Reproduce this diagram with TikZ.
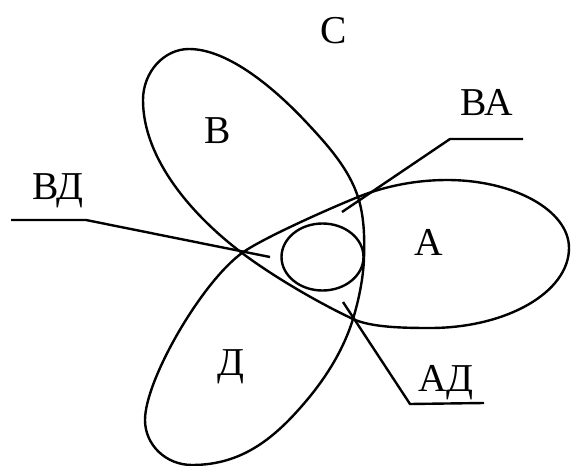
\documentclass[tikz,border=0pt]{standalone}
\usepackage{fontspec}
\setmainfont{Liberation Serif}
\begin{document}
\begin{tikzpicture}[x=1pt,y=-1pt,line width=2.4pt,
  lbl/.style={font=\fontsize{39.5}{40}\selectfont,inner sep=0pt,anchor=base},
  leader/.style={line width=2.4pt}]
\useasboundingbox (0,0) rectangle (571,466);
% crossing points and lobe points
\coordinate (X1) at (242,253);
\coordinate (X2) at (358,197);
\coordinate (X3) at (353,319);
\coordinate (Atop) at (447,180);
\coordinate (Aright) at (569,248);
\coordinate (Abot) at (430,328);
\coordinate (Bl) at (143,100);
\coordinate (Btop) at (189,49);
\coordinate (Bmid) at (307,123);
\coordinate (Br) at (364,258);
\coordinate (Dr) at (307,400);
\coordinate (Dbot) at (192,465);
\coordinate (Dl) at (145,420);
% three-lobed outline
\draw (X1) .. controls +(36:25pt) and +(202:30pt) .. (X2)
  .. controls +(22:30pt) and +(180:30pt) .. (Atop)
  .. controls +(0:67pt) and +(90:37.5pt) .. (Aright)
  .. controls +(-90:44pt) and +(0:77pt) .. (Abot)
  .. controls +(180:26pt) and +(-25:20pt) .. (X3)
  .. controls +(155:38pt) and +(-37:38pt) .. (X1)
  .. controls +(143:60pt) and +(-90:60pt) .. (Bl)
  .. controls +(90:28pt) and +(180:25pt) .. (Btop)
  .. controls +(0:40pt) and +(133:45pt) .. (Bmid)
  .. controls +(-47:30pt) and +(108:30pt) .. (X2)
  .. controls +(-72:20pt) and +(88:20pt) .. (Br)
  .. controls +(-92:20pt) and +(73:20pt) .. (X3)
  .. controls +(-107:31pt) and +(50:31pt) .. (Dr)
  .. controls +(-130:50pt) and +(0:50pt) .. (Dbot)
  .. controls +(180:26pt) and +(-90:25pt) .. (Dl)
  .. controls +(90:40pt) and +(-144:50pt) .. (X1);
% inner circle
\draw (322.5,257) ellipse [x radius=41pt,y radius=33.5pt];
% labels
\node[lbl] (C) at (334,43) {С};
\node[lbl] (B) at (218,143) {В};
\node[lbl] (BA) at (487,115) {ВА};
\node[lbl] (BD) at (58,199) {ВД};
\node[lbl] (A) at (429,255) {А};
\node[lbl] (D) at (231,375) {Д};
\node[lbl] (AD) at (446,391) {АД};
% leader lines
\coordinate (baE) at (523,139);
\coordinate (baK) at (450,139);
\coordinate (baP) at (342,212);
\coordinate (bdE) at (11,220);
\coordinate (bdK) at (86,220);
\coordinate (bdP) at (270,257);
\coordinate (adE) at (484,403);
\coordinate (adK) at (410,404);
\coordinate (adP) at (343,302);
\draw[leader] (baE) -- (baK) -- (baP);
\draw[leader] (bdE) -- (bdK) -- (bdP);
\draw[leader] (adE) -- (adK) -- (adP);
\end{tikzpicture}
\end{document}
